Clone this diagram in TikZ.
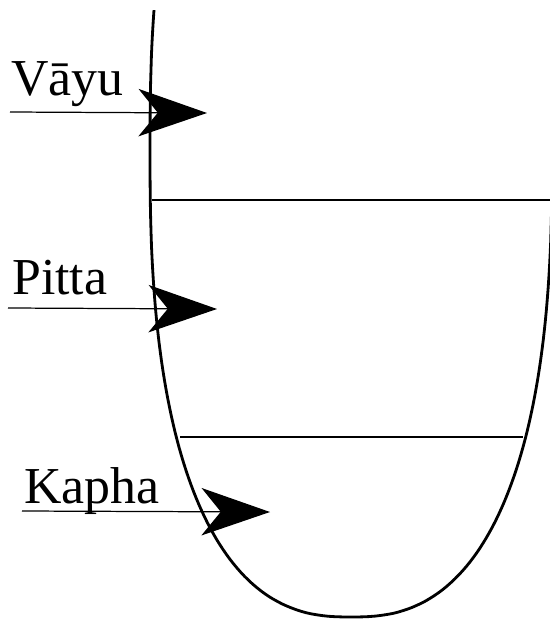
\documentclass[tikz,border=0pt]{standalone}
\usepackage{fontspec}
\setmainfont{Liberation Serif}
\usepackage{tikz}
\usetikzlibrary{arrows.meta}

\begin{document}
\begin{tikzpicture}[
  x=0.02cm, y=-0.02cm,
  vessel/.style={line width=1.6pt},
  level/.style={line width=1.6pt},
  humour/.style={font=\fontsize{29.5}{34}\selectfont, anchor=base west, inner sep=0pt},
  pointer/.style={line width=0.7pt, -{Stealth[length=39pt, width=27pt, inset=11pt]}}
]
  \useasboundingbox (0,0) rectangle (550,619);
  \clip (0,0) rectangle (550,619);

  % Vessel
  \draw[vessel] plot[domain=-12.8:179, samples=150]
    ({351-201*sign(cos(\x))*pow(abs(cos(\x)),0.8)},
     {150+467*sign(sin(\x))*pow(abs(sin(\x)),0.8)});

  % Levels
  \draw[level] (152,200) -- (550,200);
  \draw[level] (180,437) -- (523,437);

  % Vayu
  \node[humour] (vayu) at (11,95) {Vāyu};
  \coordinate (vayuin) at (10,112);
  \coordinate (vayutip) at (207,113);
  \draw[pointer] (vayuin) -- (vayutip);

  % Pitta
  \node[humour] (pitta) at (12,294) {Pitta};
  \coordinate (pittain) at (8,308);
  \coordinate (pittatip) at (217,309);
  \draw[pointer] (pittain) -- (pittatip);

  % Kapha
  \node[humour] (kapha) at (24,503) {Kapha};
  \coordinate (kaphain) at (22,511);
  \coordinate (kaphatip) at (270,512);
  \draw[pointer] (kaphain) -- (kaphatip);

\end{tikzpicture}
\end{document}
